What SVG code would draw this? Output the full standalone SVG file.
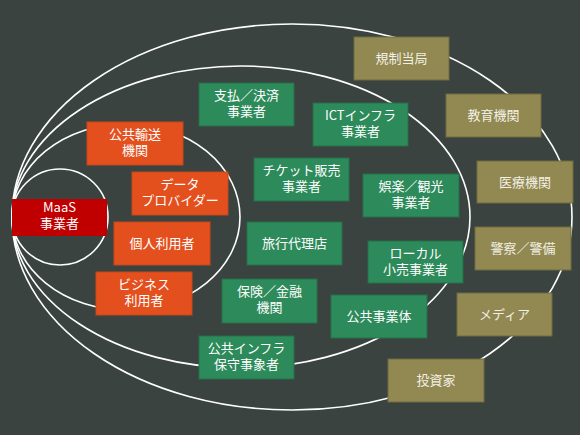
<svg xmlns="http://www.w3.org/2000/svg" width="580" height="435" viewBox="0 0 580 435">
<style>
text{font-family:"Noto Sans CJK JP","Noto Sans",sans-serif;font-size:13px;fill:#ffffff;text-anchor:middle}
.ring{fill:none;stroke:#ffffff;stroke-width:1.6}
.red{fill:#C00000}
.org{fill:#E3501E;stroke:#C8461A;stroke-width:1}
.grn{fill:#2D8A5A;stroke:#257048;stroke-width:1}
.olv{fill:#918852;stroke:#706A3E;stroke-width:1}
.olv+text,.otx{fill:#F2F0E4}
</style>
<rect x="0" y="0" width="580" height="435" fill="#3B4341"/>
<g id="connectors">
<ellipse class="ring" cx="292" cy="217" rx="280" ry="193"/>
<ellipse class="ring" cx="241" cy="217" rx="229" ry="151"/>
<ellipse class="ring" cx="126" cy="217" rx="114" ry="93"/>
<circle class="ring" cx="60" cy="217" r="48"/>
</g>
<g id="maas"><rect class="red" x="12" y="199" width="95" height="37"/><text x="59.5" y="212">MaaS</text><text x="59.5" y="228">事業者</text></g>
<g id="transport"><rect class="org" x="87" y="122" width="96" height="43"/><text x="135" y="139">公共輸送</text><text x="135" y="155">機関</text></g>
<g id="data"><rect class="org" x="132" y="172" width="96" height="43"/><text x="180" y="189">データ</text><text x="180" y="205">プロバイダー</text></g>
<g id="personal"><rect class="org" x="114" y="222" width="96" height="43"/><text x="162" y="248">個人利用者</text></g>
<g id="business"><rect class="org" x="96" y="272" width="96" height="43"/><text x="144" y="289">ビジネス</text><text x="144" y="305">利用者</text></g>
<g id="payment"><rect class="grn" x="199" y="83" width="95" height="43"/><text x="246.5" y="100">支払／決済</text><text x="246.5" y="116">事業者</text></g>
<g id="ict"><rect class="grn" x="313" y="103" width="95" height="43"/><text x="360.5" y="120">ICTインフラ</text><text x="360.5" y="136">事業者</text></g>
<g id="ticket"><rect class="grn" x="254" y="158" width="95" height="43"/><text x="301.5" y="175">チケット販売</text><text x="301.5" y="191">事業者</text></g>
<g id="leisure"><rect class="grn" x="363" y="174" width="96" height="43"/><text x="411" y="191">娯楽／観光</text><text x="411" y="207">事業者</text></g>
<g id="travel"><rect class="grn" x="247" y="222" width="95" height="43"/><text x="294.5" y="248">旅行代理店</text></g>
<g id="retail"><rect class="grn" x="368" y="241" width="95" height="42"/><text x="415.5" y="258">ローカル</text><text x="415.5" y="274">小売事業者</text></g>
<g id="insurance"><rect class="grn" x="222" y="279" width="95" height="44"/><text x="269.5" y="296">保険／金融</text><text x="269.5" y="312">機関</text></g>
<g id="utility"><rect class="grn" x="331" y="295" width="96" height="43"/><text x="379" y="321">公共事業体</text></g>
<g id="infra"><rect class="grn" x="199" y="336" width="95" height="43"/><text x="246.5" y="353">公共インフラ</text><text x="246.5" y="369">保守事象者</text></g>
<g id="regulator"><rect class="olv" x="354" y="37" width="95" height="43"/><text class="otx" x="401.5" y="63">規制当局</text></g>
<g id="education"><rect class="olv" x="446" y="94" width="95" height="43"/><text class="otx" x="493.5" y="120">教育機関</text></g>
<g id="medical"><rect class="olv" x="477" y="161" width="96" height="42"/><text class="otx" x="525" y="187">医療機関</text></g>
<g id="police"><rect class="olv" x="475" y="227" width="96" height="43"/><text class="otx" x="523" y="253">警察／警備</text></g>
<g id="media"><rect class="olv" x="457" y="293" width="95" height="43"/><text class="otx" x="504.5" y="319">メディア</text></g>
<g id="investor"><rect class="olv" x="388" y="359" width="96" height="43"/><text class="otx" x="436" y="385">投資家</text></g>
</svg>
